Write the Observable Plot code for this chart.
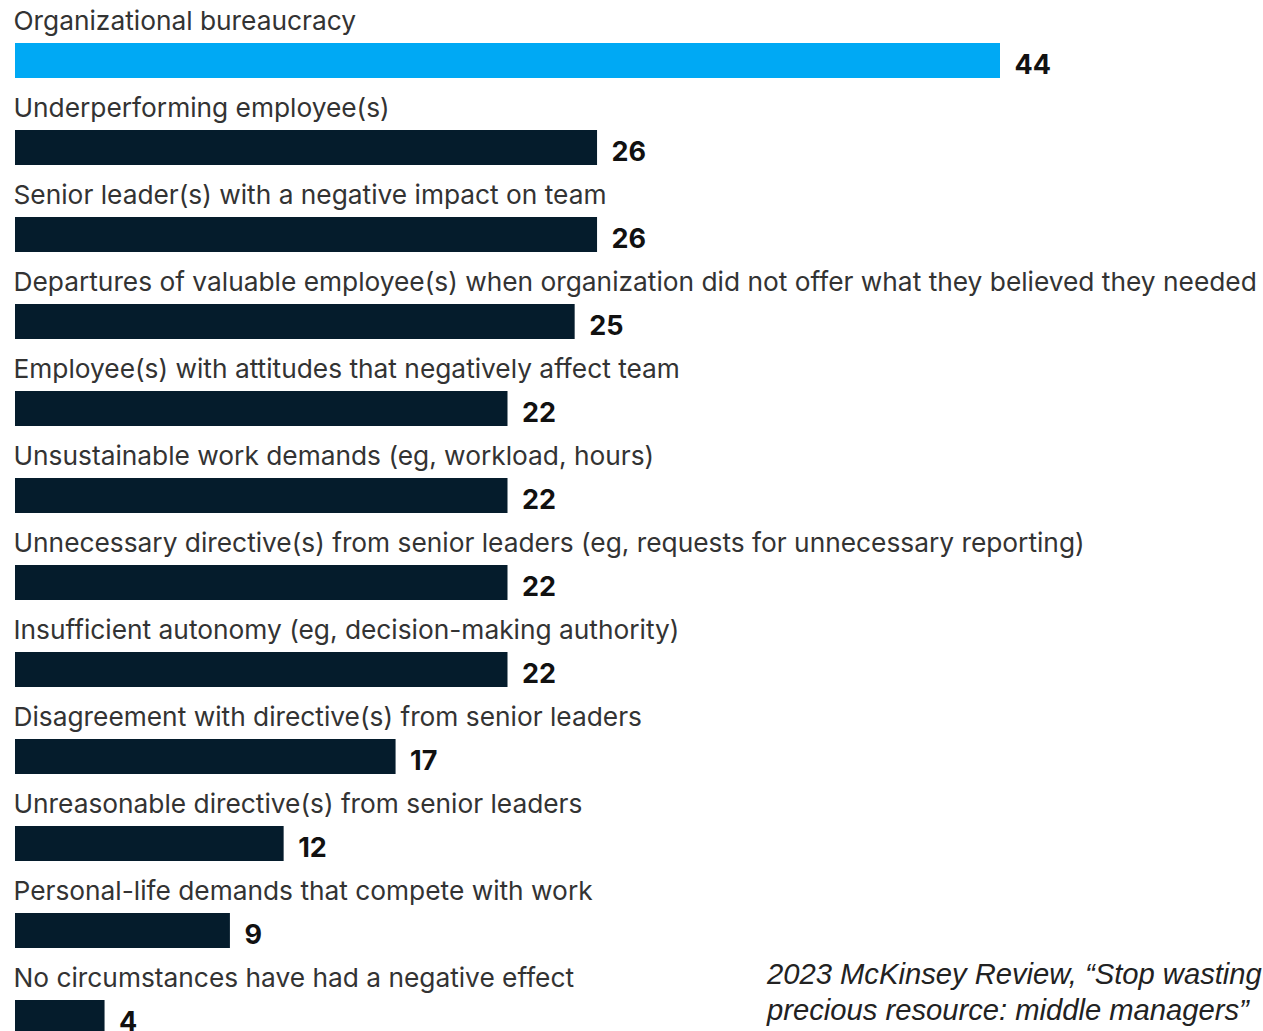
<!DOCTYPE html>
<html>
<head>
<meta charset="utf-8">
<script src="https://cdn.jsdelivr.net/npm/d3@7"></script>
<script src="https://cdn.jsdelivr.net/npm/@observablehq/plot@0.6"></script>
<style>
  html, body { margin: 0; padding: 0; background: #fff; overflow: hidden; width: 1263px; height: 1031px; }
  #chart { position: absolute; left: 0; top: 0; }
  #caption { position: absolute; left: 767px; top: 956px; font-family: "Liberation Sans", Arial, sans-serif; font-style: italic; font-size: 29.2px; line-height: 36px; color: #222; white-space: nowrap; }
</style>
</head>
<body>
<div id="chart"></div>
<div id="caption">2023 McKinsey Review, “Stop wasting<br>precious resource: middle managers”</div>
<script>
const categories = [
  "Organizational bureaucracy",
  "Underperforming employee(s)",
  "Senior leader(s) with a negative impact on team",
  "Departures of valuable employee(s) when organization did not offer what they believed they needed",
  "Employee(s) with attitudes that negatively affect team",
  "Unsustainable work demands (eg, workload, hours)",
  "Unnecessary directive(s) from senior leaders (eg, requests for unnecessary reporting)",
  "Insufficient autonomy (eg, decision-making authority)",
  "Disagreement with directive(s) from senior leaders",
  "Unreasonable directive(s) from senior leaders",
  "Personal-life demands that compete with work",
  "No circumstances have had a negative effect"
];
const barLengths = [44, 26, 26, 25, 22, 22, 22, 22, 17, 12, 9.6, 4];
const valueLabels = ["44", "26", "26", "25", "22", "22", "22", "22", "17", "12", "9", "4"];
const highlight = [true, false, false, false, false, false, false, false, false, false, false, false];

const rows = categories.map((c, i) => ({category: c, value: barLengths[i], label: valueLabels[i], hi: highlight[i]}));

const chart = Plot.plot({
  width: 1263,
  height: 1031,
  margin: 0,
  style: {background: "#fff", overflow: "visible"},
  x: {domain: [0, 44], range: [15, 1000], axis: null},
  y: {domain: categories, range: [43, 1035], paddingInner: 52 / 87, paddingOuter: 0, axis: null},
  marks: [
    Plot.barX(rows, {x: "value", y: "category", fill: d => d.hi ? "#00a9f4" : "#051c2c"}),
    Plot.text(rows, {x: () => 0, y: "category", text: "category", textAnchor: "start", lineAnchor: "bottom",
      dx: -2, dy: -31.5, fontSize: 26.3, fill: "#333", fontFamily: "Inter, sans-serif"}),
    Plot.text(rows, {x: "value", y: "category", text: "label", textAnchor: "start", lineAnchor: "bottom",
      dx: 14, dy: 12.5, fontSize: 27, fontWeight: "bold", fill: "#111", fontFamily: "Inter, sans-serif"})
  ]
});
document.getElementById("chart").appendChild(chart);
</script>
</body>
</html>
